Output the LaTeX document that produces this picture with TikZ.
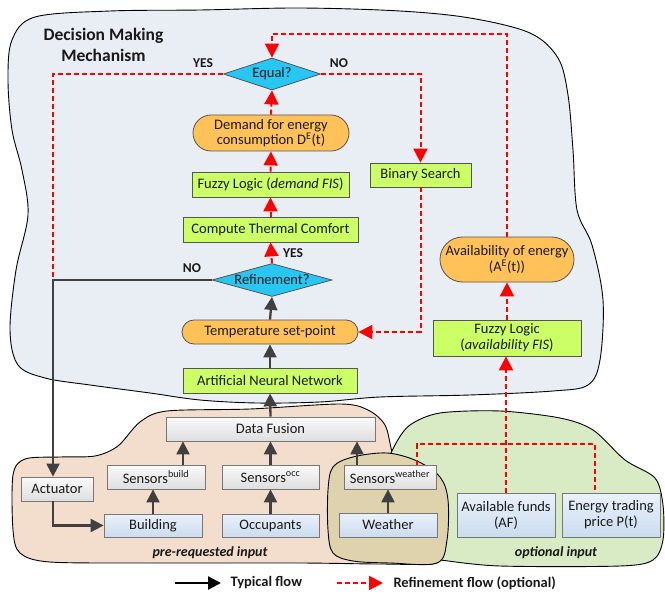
\documentclass[tikz,border=0pt]{standalone}
\usepackage{fontspec}
\setmainfont{Carlito}
\usetikzlibrary{shapes.geometric,shapes.misc,arrows.meta,calc}
\definecolor{boxgreen}{RGB}{204,255,102}
\definecolor{boxorange}{RGB}{255,194,88}
\definecolor{boxcyan}{RGB}{40,198,242}
\definecolor{bordergray}{RGB}{85,85,85}
\definecolor{txt}{RGB}{25,25,25}
\definecolor{darkarrow}{RGB}{64,64,64}
\definecolor{dmbg}{RGB}{233,237,244}
\definecolor{peach}{RGB}{243,221,204}
\definecolor{optgreen}{RGB}{216,235,197}
\definecolor{weathertan}{RGB}{222,211,172}
\definecolor{graytop}{RGB}{250,250,250}
\definecolor{graybot}{RGB}{222,222,222}
\definecolor{bluetop}{RGB}{234,241,250}
\definecolor{bluebot}{RGB}{203,220,239}
\definecolor{redflow}{RGB}{255,0,0}
\begin{document}
\begin{tikzpicture}[x=1pt,y=-1pt,
  every node/.style={font=\fontsize{14.5}{16}\selectfont, text=txt},
  gbox/.style={draw=bordergray, line width=0.8pt, fill=boxgreen, inner sep=0pt, align=center},
  obox/.style={rounded rectangle, draw=bordergray, line width=0.8pt, fill=boxorange, inner sep=0pt, align=center},
  dbox/.style={diamond, draw=bordergray, line width=0.8pt, fill=boxcyan, inner sep=0pt},
  graybox/.style={draw=bordergray!80, line width=0.8pt, top color=graytop, bottom color=graybot, inner sep=0pt, align=center},
  bluebox/.style={draw=bordergray!80, line width=0.8pt, top color=bluetop, bottom color=bluebot, inner sep=0pt, align=center},
  blob/.style={draw=black, line width=0.9pt},
  darkf/.style={draw=darkarrow, line width=2.3pt, -{Triangle[width=13pt,length=13pt]}},
  redf/.style={draw=redflow, line width=2pt, dash pattern=on 5pt off 3pt, -{Triangle[width=14pt,length=14pt]}},
  redl/.style={draw=redflow, line width=2pt, dash pattern=on 5pt off 3pt},
  blackf/.style={draw=black, line width=2.3pt, -{Triangle[width=13pt,length=13pt]}},
  lbl/.style={font=\fontsize{13.5}{15}\selectfont\bfseries},
  zonelbl/.style={font=\fontsize{14}{15}\selectfont\bfseries\itshape}
]
\useasboundingbox (0,0) rectangle (665,594);

% Decision making blob
\draw[blob, fill=dmbg] plot[smooth cycle, tension=0.55] coordinates {
 (12,40) (35,17) (110,11) (200,10) (300,8) (400,11) (470,18) (530,33) (558,58)
 (568,95) (573,150) (577,210) (592,245) (603,300) (600,360) (588,385) (553,391)
 (470,395) (380,397) (320,402) (257,403) (200,400) (150,393) (90,385) (45,378)
 (18,365) (10,330) (16,270) (28,215) (22,170) (12,130) (8,80)};

% pre-requested input blob
\draw[blob, fill=peach] plot[smooth cycle, tension=0.5] coordinates {
 (13,475) (25,459) (60,457) (95,456) (118,446) (140,422) (167,411) (250,409)
 (340,404) (368,410) (385,425) (392,452) (405,500) (425,545) (437,563)
 (380,564) (300,563) (150,563) (50,562) (20,553) (13,530)};

% optional input blob
\draw[blob, fill=optgreen] plot[smooth cycle, tension=0.5] coordinates {
 (385,472) (395,445) (410,425) (440,413) (500,411) (560,418) (593,430)
 (625,460) (655,478) (663,505) (663,540) (653,560) (620,566) (500,566)
 (440,560) (400,555) (385,520)};

% weather blob
\draw[blob, fill=weathertan] plot[smooth cycle, tension=0.55] coordinates {
 (328,490) (333,467) (353,457) (387,453) (417,461) (440,477) (448,500)
 (447,540) (437,563) (390,563) (353,561) (333,553) (328,530)};

% Labels of zones
\node[font=\fontsize{17.5}{21}\selectfont\bfseries, align=center] (dmm) at (103.5,45) {Decision Making\\Mechanism};
\node[zonelbl] (pri) at (210,553) {pre-requested input};
\node[zonelbl] (opi) at (556,553) {optional input};

% Decision column
\node[dbox, aspect=3, minimum width=97pt, minimum height=32pt] (eq) at (272,74) {Equal?};
\node[obox, minimum width=156pt, minimum height=36pt, font=\fontsize{14.5}{15.5}\selectfont] (dem) at (271,133) {Demand for energy\\consumption D\textsuperscript{E}(t)};
\node[gbox, minimum width=157pt, minimum height=25pt] (fzd) at (270.5,184.5) {Fuzzy Logic (\textit{demand FIS})};
\node[gbox, minimum width=175pt, minimum height=25pt] (ctc) at (270.5,229.5) {Compute Thermal Comfort};
\node[dbox, aspect=3.6, minimum width=120pt, minimum height=33pt] (ref) at (272,280) {Refinement?};
\node[obox, minimum width=176pt, minimum height=24pt] (tsp) at (270,332) {Temperature set-point};
\node[gbox, minimum width=174pt, minimum height=25pt] (ann) at (270,380.5) {Artificial Neural Network};
\node[graybox, minimum width=209pt, minimum height=24pt] (df) at (270.5,429) {Data Fusion};

% right column
\node[gbox, minimum width=101pt, minimum height=24pt] (bs) at (420.5,175) {Binary Search};
\node[obox, minimum width=134pt, minimum height=45pt, font=\fontsize{14.5}{16}\selectfont] (ava) at (507,259.5) {Availability of energy\\(A\textsuperscript{E}(t))};
\node[gbox, minimum width=148pt, minimum height=36pt, font=\fontsize{14.5}{16}\selectfont] (fza) at (507,338) {Fuzzy Logic\\(\textit{availability FIS})};

% sensors and inputs
\node[graybox, minimum width=98pt, minimum height=24pt] (sb) at (156,477) {Sensors\textsuperscript{build}};
\node[graybox, minimum width=97pt, minimum height=24pt] (so) at (270.5,477) {Sensors\textsuperscript{occ}};
\node[graybox, minimum width=92pt, minimum height=24pt] (sw) at (390,477) {Sensors\textsuperscript{weather}};
\node[graybox, minimum width=72pt, minimum height=24pt] (act) at (57,489) {Actuator};
\node[bluebox, minimum width=98pt, minimum height=23pt] (bld) at (153,525.5) {Building};
\node[bluebox, minimum width=97pt, minimum height=23pt] (occ) at (270.5,525.5) {Occupants};
\node[bluebox, minimum width=98pt, minimum height=24pt] (wth) at (388,525) {Weather};
\node[bluebox, minimum width=98pt, minimum height=44pt, font=\fontsize{14.5}{16}\selectfont] (af) at (506,515) {Available funds\\(AF)};
\node[bluebox, minimum width=98pt, minimum height=44pt, font=\fontsize{14.5}{16}\selectfont] (etp) at (611,515) {Energy trading\\price P(t)};

% YES / NO labels
\node[lbl] (yes1) at (203,63) {YES};
\node[lbl] (no1) at (339,63) {NO};
\node[lbl] (yes2) at (293,253) {YES};
\node[lbl] (no2) at (192,268) {NO};

% coordinates
\coordinate (cnr) at (53,280);
\coordinate (cyes) at (53,74);
\coordinate (ctop) at (507,34);
\coordinate (cw) at (417,444);
\coordinate (ce) at (595,444);
\coordinate (xsb) at (183,0);
\coordinate (xsw) at (357,0);

% red refinement flows
\draw[redl] (eq.west) -- (cyes) -- (cnr);
\draw[redf] (eq.east) -| (bs.north);
\draw[redf] (bs.south) |- (tsp.east);
\draw[redf] (ava.north) -- (ava.north |- ctop) -- (eq.north |- ctop) -- (eq.north);
\draw[redf] (fza.north) -- (ava.south);
\draw[redf] (af.north) -- (af.north |- fza.south);
\draw[redl] (sw.north -| cw) -- (cw) -- (ce) -- (ce |- etp.north);
\draw[redf] (ref.north) -- (ctc.south);
\draw[redf] (ctc.north) -- (fzd.south);
\draw[redf] (fzd.north) -- (dem.south);
\draw[redf] (dem.north) -- (eq.south);

% typical flows
\draw[darkf] (ref.west) -- (cnr) -- (cnr |- act.north);
\draw[darkf] (act.south -| cnr) |- (bld.west);
\draw[darkf] (tsp.north) -- (ref.south);
\draw[darkf] (ann.north) -- (tsp.south);
\draw[darkf] (df.north) -- (ann.south);
\draw[darkf] (sb.north -| xsb) -- (df.south -| xsb);
\draw[darkf] (so.north) -- (df.south -| so.north);
\draw[darkf] (sw.north -| xsw) -- (df.south -| xsw);
\draw[darkf] (bld.north) -- (bld.north |- sb.south);
\draw[darkf] (occ.north) -- (occ.north |- so.south);
\draw[darkf] (wth.north) -- (wth.north |- sw.south);

% legend
\coordinate (la1) at (175,583);
\coordinate (la2) at (221,583);
\coordinate (lb1) at (337,583);
\coordinate (lb2) at (383,583);
\draw[blackf] (la1) -- (la2);
\node[anchor=west, font=\fontsize{14.5}{16}\selectfont\bfseries] (lt1) at (227,583) {Typical flow};
\draw[redf] (lb1) -- (lb2);
\node[anchor=west, font=\fontsize{14.5}{16}\selectfont\bfseries] (lt2) at (390,583) {Refinement flow (optional)};
\end{tikzpicture}
\end{document}
